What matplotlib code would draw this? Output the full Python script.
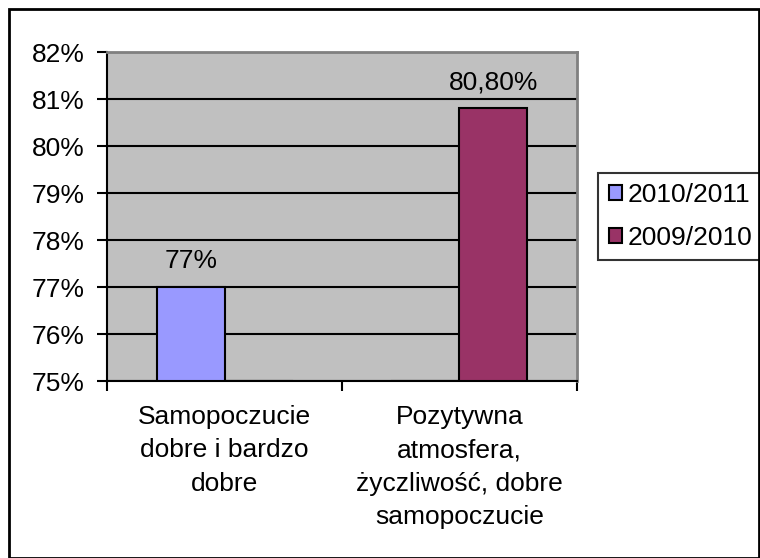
import matplotlib
matplotlib.use("Agg")
import matplotlib.pyplot as plt
import numpy as np
from matplotlib.patches import Rectangle
from matplotlib.ticker import FuncFormatter

plt.rcParams['font.family'] = ['Liberation Sans', 'DejaVu Sans']

categories = ["Samopoczucie\ndobre i bardzo\ndobre",
              "Pozytywna\natmosfera,\nżyczliwość, dobre\nsamopoczucie"]
series_names = ["2010/2011", "2009/2010"]
vals_2010_2011 = [77.0, np.nan]
vals_2009_2010 = [np.nan, 80.8]
value_labels = ["77%", "80,80%"]
colors = ["#9999FF", "#993366"]

fig = plt.figure(figsize=(7.6, 5.58), dpi=100)
ax = fig.add_axes([0.1408, 0.3172, 0.6184, 0.5896])
ax.set_facecolor("#C0C0C0")

x = np.arange(len(categories))
w = 1 / 3.5
b1 = ax.bar(x - w / 2, np.nan_to_num(vals_2010_2011) - 75, w, bottom=75, color=colors[0],
            edgecolor="black", linewidth=1.5, label=series_names[0], zorder=3)
b2 = ax.bar(x + w / 2, np.nan_to_num(vals_2009_2010) - 75, w, bottom=75, color=colors[1],
            edgecolor="black", linewidth=1.5, label=series_names[1], zorder=3)

# value labels
ax.text(x[0] - w / 2, vals_2010_2011[0] + 0.3, value_labels[0], ha="center", va="bottom", fontsize=19)
ax.text(x[1] + w / 2, vals_2009_2010[1] + 0.3, value_labels[1], ha="center", va="bottom", fontsize=19)

ax.set_xlim(-0.5, 1.5)
ax.set_ylim(75, 82)
ax.set_yticks(np.arange(75, 83, 1))
ax.yaxis.set_major_formatter(FuncFormatter(lambda v, p: "%d%%" % v))
ax.grid(axis="y", color="black", linewidth=1.5, zorder=1)

ax.set_xticks([-0.5, 0.5, 1.5])
ax.set_xticklabels([])
ax.set_xticks(x, minor=True)
ax.set_xticklabels(categories, minor=True, fontsize=19, linespacing=1.5)
ax.tick_params(axis="x", which="minor", length=0, pad=17)
ax.tick_params(axis="x", which="major", length=7, width=1.5, direction="out")
ax.tick_params(axis="y", length=7, width=1.5, labelsize=19, pad=9)

for s in ["left", "bottom"]:
    ax.spines[s].set_color("black")
    ax.spines[s].set_linewidth(1.5)
for s in ["top", "right"]:
    ax.spines[s].set_color("#808080")
    ax.spines[s].set_linewidth(2)

leg = ax.legend(loc="center left", bbox_to_anchor=(1.045, 0.5), fontsize=19, frameon=True,
                fancybox=False, edgecolor="black", handlelength=0.5, handleheight=0.5,
                handletextpad=0.2, borderpad=0.4, labelspacing=0.7, borderaxespad=0)
leg.get_frame().set_linewidth(1.5)

fig.patches.append(Rectangle((9 / 760, 0.0), 750 / 760, 549 / 558, transform=fig.transFigure,
                             fill=False, edgecolor="black", linewidth=2))

fig.savefig("out.png", dpi=100)
